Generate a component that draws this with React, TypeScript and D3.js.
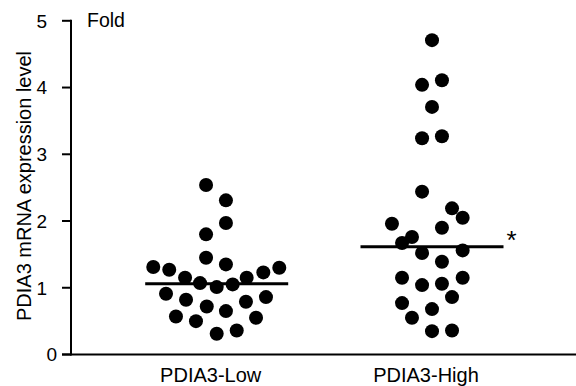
import React from "react";
import * as d3 from "d3";

const groups = ["PDIA3-Low", "PDIA3-High"];
const yTicks = [0, 1, 2, 3, 4, 5];

const lowValues = [2.54, 2.31, 1.97, 1.8, 1.45, 1.35, 1.31, 1.27, 1.3, 1.23, 1.15, 1.15, 1.07, 1.05, 1.01, 0.91, 0.86, 0.82, 0.79, 0.72, 0.65, 0.57, 0.55, 0.5, 0.31, 0.36];
const lowJitter = [-0.76, 0.66, 0.66, -0.76, -0.76, 0.66, -4.53, -3.39, 4.47, 3.33, -2.26, 2.14, -1.19, 1.14, 0, -3.62, 3.52, -2.19, 2.09, -0.71, 0.66, -2.91, 2.81, -1.48, 0, 1.43];

const highValues = [4.71, 4.11, 4.04, 3.71, 3.24, 3.27, 2.44, 2.19, 2.05, 1.96, 1.9, 1.76, 1.67, 1.52, 1.56, 1.39, 1.15, 1.15, 1.04, 1.06, 0.86, 0.77, 0.68, 0.55, 0.35, 0.36];
const highJitter = [0, 0.71, -0.71, 0, -0.71, 0.71, -0.71, 1.43, 2.19, -2.86, 0.71, -1.43, -2.14, -0.71, 2.19, 0.71, -2.14, 2.19, -0.71, 0.71, 1.43, -2.14, 0, -1.43, 0, 1.43];

const seriesValues = [lowValues, highValues];
const seriesJitter = [lowJitter, highJitter];
const significance = ["", "*"];

const W = 576;
const H = 386;
const FONT = "'Liberation Sans', Arial, Helvetica, sans-serif";

export default function App() {
  const y = d3.scaleLinear().domain([0, 5]).range([354.5, 20.8]);
  const x = d3.scalePoint<string>().domain(groups).range([216.7, 432]);
  const jitter = d3.scaleLinear().domain([0, 1]).range([0, 14]);
  const axisX = 71;
  const r = 7;
  const halfLine = 71.5;

  return (
    <svg width={W} height={H} style={{ position: "absolute", left: 0, top: 0, background: "#fff" }} fontFamily={FONT}>
      {/* y axis */}
      <line x1={axisX} x2={axisX} y1={y(5) - 1} y2={y(0) + 1} stroke="#000" strokeWidth={2} />
      {yTicks.map((t) => (
        <g key={t}>
          <line x1={axisX - 9} x2={axisX} y1={y(t)} y2={y(t)} stroke="#000" strokeWidth={2} />
          <text x={t === 0 ? 57 : 47} y={y(t)} dy="0.36em" textAnchor="end" fontSize={19} fill="#000">
            {t}
          </text>
        </g>
      ))}
      {/* x axis */}
      <line x1={axisX - 9} x2={W} y1={y(0)} y2={y(0)} stroke="#000" strokeWidth={2} />
      <text x={87} y={27} fontSize={19.5} fill="#000">Fold</text>
      <text transform={`translate(31,186) rotate(-90)`} textAnchor="middle" fontSize={20} fill="#000">
        PDIA3 mRNA expression level
      </text>
      {groups.map((g, gi) => {
        const cx = x(g) as number;
        const vals = seriesValues[gi];
        const jit = seriesJitter[gi];
        const med = d3.median(vals) as number;
        return (
          <g key={g}>
            {vals.map((v, i) => (
              <circle key={i} cx={cx + jitter(jit[i])} cy={y(v)} r={r} fill="#000" />
            ))}
            <line x1={cx - halfLine} x2={cx + halfLine} y1={y(med)} y2={y(med)} stroke="#000" strokeWidth={3} />
            {significance[gi] && (
              <text x={cx + halfLine + 3} y={y(med) + 2} fontSize={26} fill="#000">
                {significance[gi]}
              </text>
            )}
            <text x={cx - 6} y={382} textAnchor="middle" fontSize={20} fill="#000">
              {g}
            </text>
          </g>
        );
      })}
    </svg>
  );
}
